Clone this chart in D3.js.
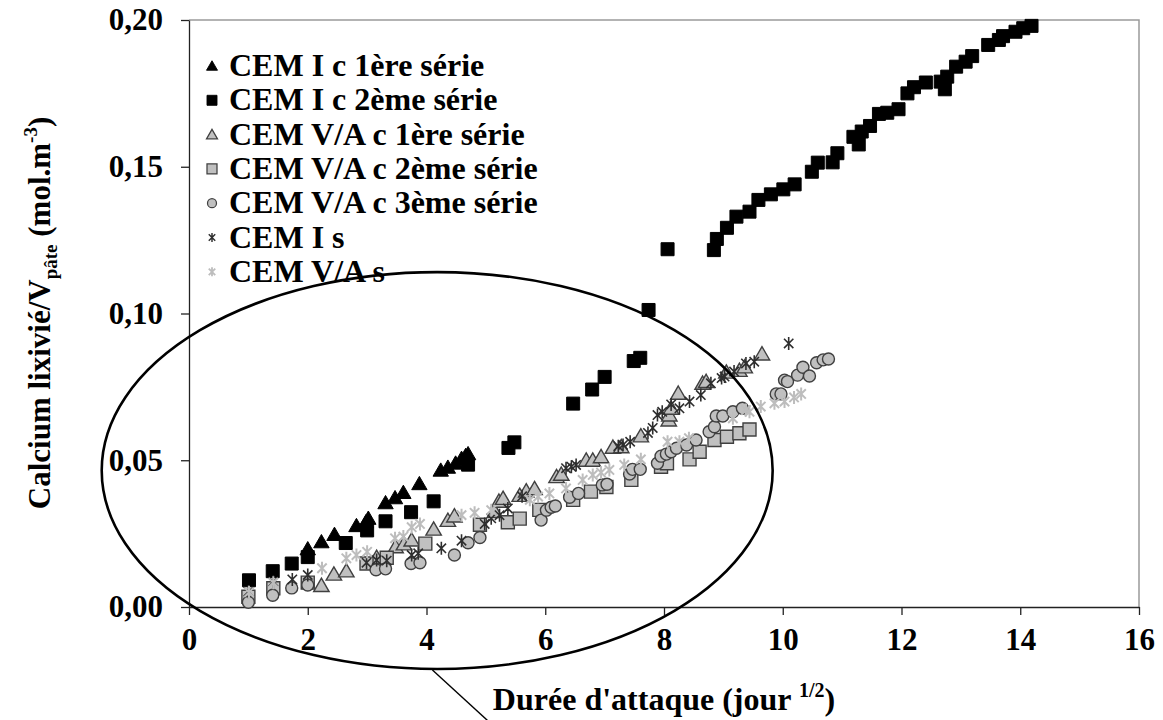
<!DOCTYPE html>
<html>
<head>
<meta charset="utf-8">
<script src="https://cdn.jsdelivr.net/npm/d3@7"></script>
<style>
  html, body { margin: 0; padding: 0; background: #fff; }
  svg { display: block; }
  text { font-family: "Liberation Serif", "Times New Roman", serif; font-weight: bold; fill: #000; }
</style>
</head>
<body>
<svg id="chart" width="1163" height="720"></svg>
<script>
// Leached calcium per paste volume versus square root of attack time
const seriesNames = [
  "CEM I c 1ère série",
  "CEM I c 2ème série",
  "CEM V/A c 1ère série",
  "CEM V/A c 2ème série",
  "CEM V/A c 3ème série",
  "CEM I s",
  "CEM V/A s"
];

const cem1c1X = [2.00, 2.23, 2.45, 2.82, 2.98, 3.02, 3.31, 3.47, 3.61, 3.88, 4.24, 4.36, 4.49, 4.59, 4.66, 4.70];
const cem1c1Y = [0.0198, 0.0222, 0.0247, 0.0277, 0.0290, 0.0302, 0.0355, 0.0372, 0.0390, 0.0420, 0.0466, 0.0476, 0.0490, 0.0506, 0.0516, 0.0522];

const cem1c2X = [1.01, 1.41, 1.73, 2.00, 2.64, 3.00, 3.31, 3.74, 4.12, 4.70, 5.38, 5.48, 6.47, 6.79, 7.00, 7.49, 7.60, 7.74,
  8.06, 8.84, 8.89, 9.06, 9.22, 9.44, 9.59, 9.80, 10.01, 10.20, 10.49, 10.59, 10.84, 10.92, 11.19, 11.28, 11.33, 11.47,
  11.62, 11.76, 11.95, 12.10, 12.21, 12.41, 12.66, 12.73, 12.77, 12.92, 13.08, 13.19, 13.46, 13.64, 13.71, 13.92, 14.05, 14.19];
const cem1c2Y = [0.0091, 0.0122, 0.0148, 0.0170, 0.0218, 0.0261, 0.0292, 0.0323, 0.0360, 0.0485, 0.0542, 0.0561, 0.0693, 0.0741, 0.0784, 0.0838, 0.0849, 0.1012,
  0.1219, 0.1216, 0.1254, 0.1292, 0.1330, 0.1347, 0.1387, 0.1406, 0.1423, 0.1440, 0.1483, 0.1514, 0.1515, 0.1546, 0.1602, 0.1576, 0.1620, 0.1639,
  0.1680, 0.1684, 0.1696, 0.1750, 0.1771, 0.1787, 0.1790, 0.1764, 0.1807, 0.1841, 0.1858, 0.1877, 0.1915, 0.1932, 0.1945, 0.1960, 0.1972, 0.1980];

const cem5c1X = [2.23, 2.44, 2.65, 3.16, 3.48, 3.62, 3.75, 4.12, 4.36, 4.47, 5.15, 5.22, 5.29, 5.57, 5.68, 5.82, 6.19, 6.27, 6.69, 6.80, 6.94,
  7.14, 7.28, 7.61, 8.08, 8.09, 8.12, 8.24, 8.65, 8.71, 9.05, 9.27, 9.36, 9.65];
const cem5c1Y = [0.0073, 0.0112, 0.0123, 0.0169, 0.0205, 0.0215, 0.0228, 0.0265, 0.0295, 0.0310, 0.0325, 0.0360, 0.0370, 0.0380, 0.0395, 0.0403, 0.0444, 0.0452, 0.0500, 0.0500, 0.0512,
  0.0544, 0.0546, 0.0583, 0.0637, 0.0654, 0.0677, 0.0728, 0.0762, 0.0768, 0.0800, 0.0806, 0.0818, 0.0862];

const cem5c2X = [1.00, 1.42, 2.00, 2.99, 3.33, 3.98, 4.90, 5.37, 5.57, 5.90, 6.47, 6.77, 7.03, 7.45, 7.95, 8.05, 8.43, 8.60, 8.85, 9.06, 9.27, 9.44];
const cem5c2Y = [0.0035, 0.0064, 0.0083, 0.0148, 0.0168, 0.0216, 0.0280, 0.0289, 0.0301, 0.0331, 0.0365, 0.0393, 0.0409, 0.0433, 0.0478, 0.0490, 0.0503, 0.0529, 0.0569, 0.0580, 0.0592, 0.0605];

const cem5c3X = [1.00, 1.41, 1.73, 2.00, 3.15, 3.31, 3.74, 3.89, 4.47, 4.70, 4.90, 5.93, 6.02, 6.10, 6.17, 6.41, 6.56, 6.96, 7.04, 7.42, 7.47,
  7.60, 7.89, 7.95, 8.04, 8.12, 8.21, 8.38, 8.54, 8.76, 8.85, 8.88, 8.99, 9.16, 9.32, 9.89, 9.97, 10.03, 10.08, 10.25, 10.34, 10.45, 10.57, 10.68, 10.77];
const cem5c3Y = [0.0016, 0.0040, 0.0065, 0.0075, 0.0127, 0.0130, 0.0148, 0.0151, 0.0177, 0.0219, 0.0237, 0.0296, 0.0330, 0.0340, 0.0344, 0.0374, 0.0387, 0.0416, 0.0418, 0.0453, 0.0469,
  0.0469, 0.0490, 0.0514, 0.0521, 0.0529, 0.0541, 0.0552, 0.0569, 0.0597, 0.0614, 0.0651, 0.0651, 0.0665, 0.0677, 0.0726, 0.0726, 0.0773, 0.0768, 0.0790, 0.0817, 0.0787, 0.0832, 0.0842, 0.0845];

const cem1sX = [1.00, 1.42, 1.74, 2.00, 2.99, 3.16, 3.33, 3.75, 3.86, 4.25, 4.59, 4.98, 5.09, 5.23, 5.37, 5.61, 6.35, 6.44, 6.52, 7.23, 7.31,
  7.43, 7.73, 7.81, 7.89, 7.97, 8.12, 8.26, 8.43, 8.62, 8.79, 8.97, 9.02, 9.18, 9.38, 9.52, 10.10];
const cem1sY = [0.0052, 0.0086, 0.0094, 0.0109, 0.0151, 0.0160, 0.0158, 0.0177, 0.0183, 0.0200, 0.0226, 0.0283, 0.0302, 0.0313, 0.0336, 0.0377, 0.0473, 0.0478, 0.0484, 0.0548, 0.0552,
  0.0563, 0.0593, 0.0610, 0.0654, 0.0665, 0.0690, 0.0677, 0.0700, 0.0722, 0.0762, 0.0780, 0.0785, 0.0802, 0.0830, 0.0836, 0.0898];

const cem5sX = [1.01, 1.42, 2.24, 2.65, 2.82, 3.00, 3.47, 3.61, 3.75, 3.89, 4.59, 4.81, 5.09, 5.74, 5.88, 6.07, 6.35, 6.63, 6.80, 6.94, 7.08,
  7.33, 7.61, 8.06, 8.26, 8.42, 9.16, 9.38, 9.44, 9.63, 9.86, 10.03, 10.19, 10.31];
const cem5sY = [0.0050, 0.0083, 0.0132, 0.0166, 0.0177, 0.0188, 0.0234, 0.0240, 0.0272, 0.0283, 0.0313, 0.0321, 0.0330, 0.0365, 0.0376, 0.0387, 0.0404, 0.0433, 0.0450, 0.0458, 0.0467,
  0.0484, 0.0503, 0.0563, 0.0563, 0.0575, 0.0643, 0.0671, 0.0665, 0.0683, 0.0694, 0.0700, 0.0714, 0.0726];

const xTicks = [0, 2, 4, 6, 8, 10, 12, 14, 16];
const yTicks = [0, 0.05, 0.10, 0.15, 0.20];

// Highlight ellipse (centre and radii in data units) and its pointer line
const ellipseCentre = [4.18, 0.0465];
const ellipseRadii = [5.65, 0.0676];
const pointerFrom = [4.10, -0.0215];
const pointerTo = [5.10, -0.0400];

const seriesX = [cem1c1X, cem1c2X, cem5c1X, cem5c2X, cem5c3X, cem1sX, cem5sX];
const seriesY = [cem1c1Y, cem1c2Y, cem5c1Y, cem5c2Y, cem5c3Y, cem1sY, cem5sY];
const seriesShape = ["triangle", "square", "triangle", "square", "circle", "star", "star"];
const seriesFill = ["#000", "#000", "#c0c0c0", "#c0c0c0", "#c0c0c0", "none", "none"];
const seriesStroke = ["#000", "#000", "#404040", "#404040", "#404040", "#2e2e2e", "#bdbdbd"];
const seriesStrokeW = [1, 1, 1.4, 1.4, 1.4, 1.6, 2];

const svg = d3.select("#chart");
const plotLeft = 189, plotRight = 1139, plotTop = 20, plotBottom = 607;

const x = d3.scaleLinear().domain([0, 16]).range([plotLeft, plotRight]);
const y = d3.scaleLinear().domain([0, 0.2]).range([plotBottom, plotTop]);

function markerPath(shape, s) {
  if (shape === "square") return `M${-s},${-s}H${s}V${s}H${-s}Z`;
  if (shape === "triangle") return `M0,${-s * 1.05}L${s * 1.1},${s * 0.85}H${-s * 1.1}Z`;
  if (shape === "circle") return `M${s},0A${s},${s} 0 1,1 ${-s},0A${s},${s} 0 1,1 ${s},0Z`;
  const d = s * 0.72;
  return `M0,${-s}V${s}M${-d},${-d}L${d},${d}M${-d},${d}L${d},${-d}`;
}
const plotSize = { square: 6.5, triangle: 7, circle: 6, star: 6.5 };
const legendSize = { square: 5, triangle: 5, circle: 4.5, star: 4.5 };

// Frame: gray top and right edges
svg.append("path")
  .attr("d", `M${plotLeft},${plotTop}H${plotRight}V${plotBottom}`)
  .attr("fill", "none").attr("stroke", "#9a9a9a").attr("stroke-width", 1.5);

// Axes
const fmt = d => d.toFixed(2).replace(".", ",");
const yAxis = svg.append("g").attr("transform", `translate(${plotLeft},0)`)
  .call(d3.axisLeft(y).tickValues(yTicks).tickFormat(fmt).tickSize(8).tickSizeOuter(0).tickPadding(18));
const xAxis = svg.append("g").attr("transform", `translate(0,${plotBottom})`)
  .call(d3.axisBottom(x).tickValues(xTicks).tickFormat(d3.format("d")).tickSize(8).tickSizeOuter(0).tickPadding(13));
[yAxis, xAxis].forEach(g => {
  g.selectAll("path, line").attr("stroke", "#222").attr("stroke-width", 1.3);
  g.selectAll("text").attr("font-size", 31).attr("font-family", "'Liberation Serif', 'Times New Roman', serif")
    .attr("font-weight", "bold").attr("fill", "#000");
});

// Data points
const plot = svg.append("g");
seriesX.forEach((xs, i) => {
  const pts = xs.map((v, j) => [v, seriesY[i][j]]);
  plot.append("g").selectAll("path").data(pts).join("path")
    .attr("transform", d => `translate(${x(d[0])},${y(d[1])})`)
    .attr("d", markerPath(seriesShape[i], plotSize[seriesShape[i]]))
    .attr("fill", seriesFill[i])
    .attr("stroke", seriesStroke[i])
    .attr("stroke-width", seriesStrokeW[i]);
});

// Ellipse highlighting the early-time region
const ex = x(ellipseCentre[0]), ey = y(ellipseCentre[1]);
const erx = x(ellipseCentre[0] + ellipseRadii[0]) - ex;
const ery = ey - y(ellipseCentre[1] + ellipseRadii[1]);
svg.append("ellipse")
  .attr("cx", ex).attr("cy", ey).attr("rx", erx).attr("ry", ery)
  .attr("fill", "none").attr("stroke", "#000").attr("stroke-width", 2.6);
svg.append("line")
  .attr("x1", x(pointerFrom[0])).attr("y1", y(pointerFrom[1]))
  .attr("x2", x(pointerTo[0])).attr("y2", y(pointerTo[1]))
  .attr("stroke", "#000").attr("stroke-width", 1.4);

// Legend
const legend = svg.append("g");
seriesNames.forEach((name, i) => {
  const by = 76 + i * 34.3;
  legend.append("path")
    .attr("transform", `translate(212,${by - 10})`)
    .attr("d", markerPath(seriesShape[i], legendSize[seriesShape[i]]))
    .attr("fill", seriesFill[i]).attr("stroke", seriesStroke[i])
    .attr("stroke-width", seriesStrokeW[i] * 0.9);
  legend.append("text").attr("x", 229).attr("y", by).attr("font-size", 32).text(name);
});

// Axis titles
const xt = svg.append("text").attr("x", 664).attr("y", 710).attr("text-anchor", "middle").attr("font-size", 32);
xt.append("tspan").text("Durée d'attaque (jour ");
xt.append("tspan").attr("font-size", 20).attr("dy", -13).text("1/2");
xt.append("tspan").attr("dy", 13).text(")");

const yt = svg.append("text").attr("transform", "translate(50,313) rotate(-90)")
  .attr("text-anchor", "middle").attr("font-size", 31);
yt.append("tspan").text("Calcium lixivié/V");
yt.append("tspan").attr("font-size", 19).attr("dy", 7).text("pâte");
yt.append("tspan").attr("dy", -7).text(" (mol.m");
yt.append("tspan").attr("font-size", 19).attr("dy", -13).text("-3");
yt.append("tspan").attr("dy", 13).text(")");
</script>
</body>
</html>
